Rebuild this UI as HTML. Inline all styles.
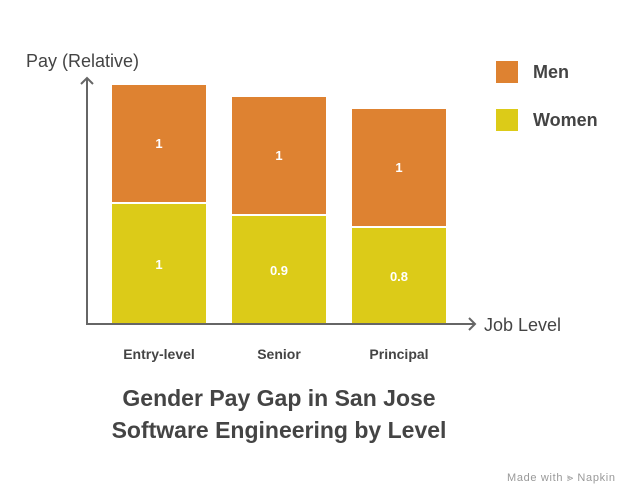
<!DOCTYPE html>
<html><head><style>
body{margin:0;background:#fff;}
svg text{font-family:"Liberation Sans",sans-serif;}
</style></head><body>
<svg width="627" height="492" xmlns="http://www.w3.org/2000/svg">
<rect width="627" height="492" fill="#fff"/>
<text x="26" y="67" font-size="18" fill="#444">Pay (Relative)</text>
<line x1="87" y1="78" x2="87" y2="324" stroke="#666" stroke-width="2"/>
<polyline points="81,84 87,78 93,84" fill="none" stroke="#666" stroke-width="2"/>
<line x1="86" y1="324" x2="475" y2="324" stroke="#666" stroke-width="2"/>
<polyline points="469,318 475,324 469,330" fill="none" stroke="#666" stroke-width="2"/>
<text x="484" y="331" font-size="18" fill="#444">Job Level</text>
<g>
<rect x="112" y="85" width="94" height="117" fill="#de8231"/>
<rect x="112" y="204" width="94" height="119" fill="#dccb18"/>
<rect x="232" y="97" width="94" height="117" fill="#de8231"/>
<rect x="232" y="216" width="94" height="107" fill="#dccb18"/>
<rect x="352" y="109" width="94" height="117" fill="#de8231"/>
<rect x="352" y="228" width="94" height="95" fill="#dccb18"/>
</g>
<g font-size="13" font-weight="bold" fill="#fff" text-anchor="middle">
<text x="159" y="148">1</text><text x="159" y="269">1</text>
<text x="279" y="160">1</text><text x="279" y="275">0.9</text>
<text x="399" y="172">1</text><text x="399" y="281">0.8</text>
</g>
<g font-size="14" font-weight="bold" fill="#444" text-anchor="middle">
<text x="159" y="359">Entry-level</text>
<text x="279" y="359">Senior</text>
<text x="399" y="359">Principal</text>
</g>
<rect x="496" y="61" width="22" height="22" fill="#de8231"/>
<rect x="496" y="109" width="22" height="22" fill="#dccb18"/>
<text x="533" y="78" font-size="18" font-weight="bold" fill="#444">Men</text>
<text x="533" y="126" font-size="18" font-weight="bold" fill="#444">Women</text>
<g font-size="23" font-weight="bold" fill="#444" text-anchor="middle">
<text x="279" y="406">Gender Pay Gap in San Jose</text>
<text x="279" y="438">Software Engineering by Level</text>
</g>
<text x="507" y="481" font-size="11" fill="#999" textLength="108">Made with ⪢ Napkin</text>
</svg>
</body></html>
